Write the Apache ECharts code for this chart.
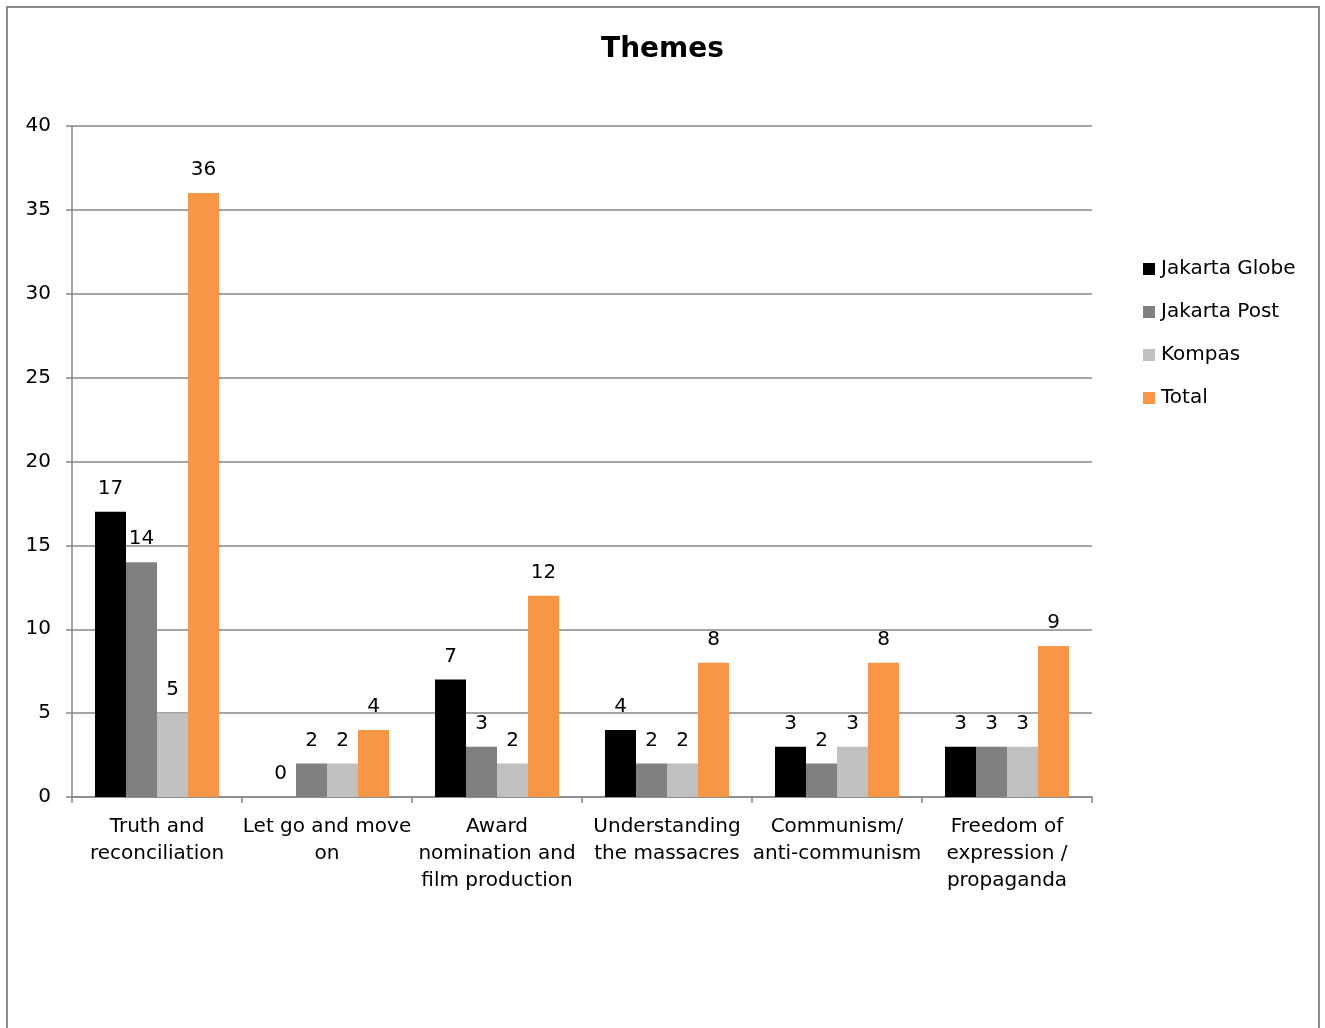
<!DOCTYPE html>
<html>
<head>
<meta charset="utf-8">
<script src="https://cdn.jsdelivr.net/npm/echarts@6/dist/echarts.min.js"></script>
<style>
html,body{margin:0;padding:0;background:#fff;}
#chart{width:1325px;height:1028px;}
</style>
</head>
<body>
<div id="chart"></div>
<script>
const categories = ["Truth and\nreconciliation", "Let go and move\non", "Award\nnomination and\nfilm production", "Understanding\nthe massacres", "Communism/\nanti-communism", "Freedom of\nexpression /\npropaganda"];
const jakartaGlobe = [17, 0, 7, 4, 3, 3];
const jakartaPost = [14, 2, 3, 2, 2, 3];
const kompas = [5, 2, 2, 2, 3, 3];
const total = [36, 4, 12, 8, 8, 9];
const seriesNames = ["Jakarta Globe", "Jakarta Post", "Kompas", "Total"];
const yTicks = { min: 0, max: 40, interval: 5 };

const FONT = '"DejaVu Sans", sans-serif';
const colors = ["#000000", "#808080", "#c0c0c0", "#f79646"];
const dataSets = [jakartaGlobe, jakartaPost, kompas, total];

const chart = echarts.init(document.getElementById('chart'));
chart.setOption({
  animation: false,
  textStyle: { fontFamily: FONT },
  title: {
    text: 'Themes', left: 'center', top: 31,
    textStyle: { fontFamily: FONT, fontSize: 28, fontWeight: 'bold', color: '#000' }
  },
  graphic: [{
    type: 'rect', shape: { x: 7, y: 7, width: 1312, height: 1100 },
    style: { fill: 'none', stroke: '#8a8a8a', lineWidth: 2 }, silent: true
  }],
  legend: {
    orient: 'vertical', left: 1138, top: 254,
    itemWidth: 12, itemHeight: 12, itemGap: 23,
    icon: 'rect',
    textStyle: { fontFamily: FONT, fontSize: 20, color: '#000', padding: [0, 0, 0, 1] },
    data: seriesNames
  },
  grid: { left: 72, right: 233, top: 126, bottom: 231, containLabel: false },
  xAxis: {
    type: 'category', data: categories,
    axisLine: { lineStyle: { color: '#868686', width: 1.5 } },
    axisTick: { show: true, length: 6, lineStyle: { color: '#868686', width: 1.5 } },
    axisLabel: { interval: 0, fontFamily: FONT, fontSize: 20, color: '#000', lineHeight: 27, margin: 16 }
  },
  yAxis: {
    type: 'value', min: yTicks.min, max: yTicks.max, interval: yTicks.interval,
    axisLine: { show: true, lineStyle: { color: '#868686', width: 1.5 } },
    axisTick: { show: true, length: 6, lineStyle: { color: '#868686', width: 1.5 } },
    splitLine: { lineStyle: { color: '#868686', width: 1.5 } },
    axisLabel: { fontFamily: FONT, fontSize: 20, color: '#000', margin: 21 }
  },
  series: seriesNames.map((n, i) => ({
    name: n, type: 'bar', data: dataSets[i],
    barWidth: 31, barGap: '0%',
    itemStyle: { color: colors[i] },
    label: { show: true, position: 'top', distance: 13, fontFamily: FONT, fontSize: 20, color: '#000' }
  }))
});
</script>
</body>
</html>
